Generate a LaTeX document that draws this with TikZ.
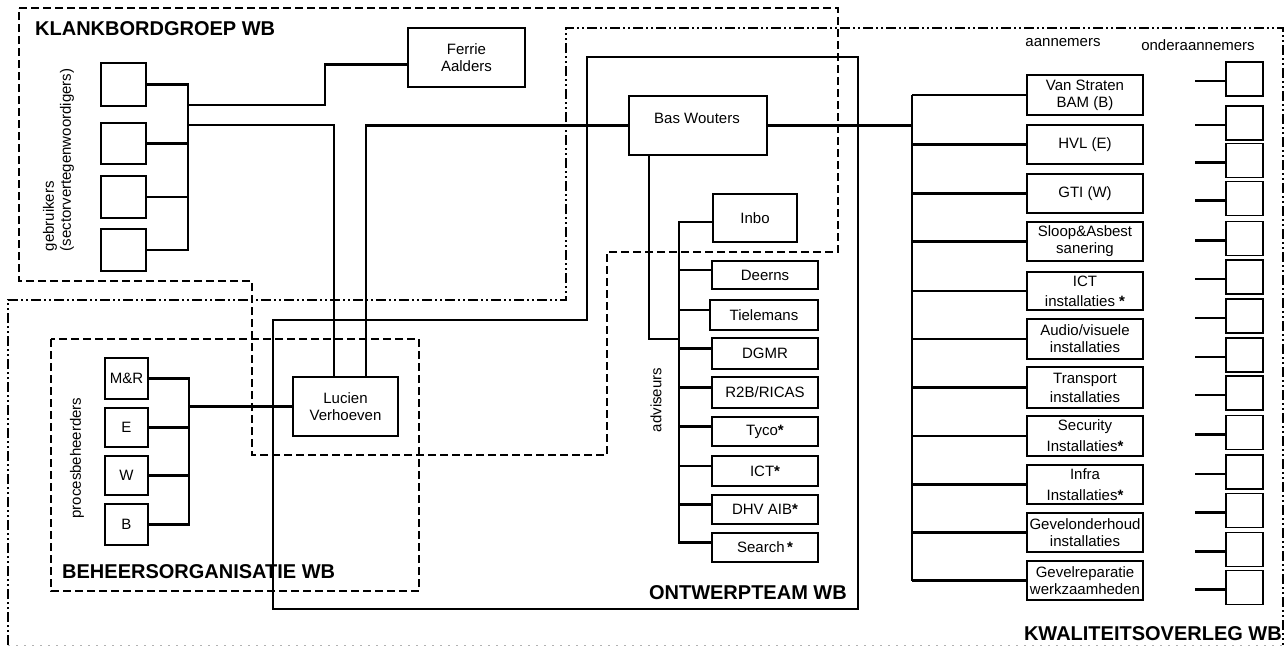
\documentclass[tikz,border=0pt]{standalone}
\usepackage{fontspec}
\setmainfont{Liberation Sans}
\newcommand\mystar{\textbf{*}}
\begin{document}
\begin{tikzpicture}[x=1pt,y=-1pt,
  box/.style={draw,line width=1.4pt,inner sep=0pt,font=\fontsize{15}{17}\selectfont,align=center},
  bus/.style={line width=2.6pt},
  title/.style={font=\fontsize{20}{22}\selectfont\bfseries,inner sep=0pt},
  lbl/.style={font=\fontsize{15}{17}\selectfont,inner sep=0pt},
  grpdash/.style={line width=1.3pt,dash pattern=on 8pt off 4pt},
  grpdot/.style={line width=1.3pt,dash pattern=on 10pt off 3pt on 2pt off 3pt on 2pt off 3pt},
  grpsolid/.style={line width=1.5pt},
]
\useasboundingbox (0,0) rectangle (1286,648);

% ---------- groups ----------
\draw[grpdash] (19,8) -- (838,8) -- (838,252) -- (607,252) -- (607,455) -- (252,455) -- (252,281) -- (19,281) -- cycle;
\draw[grpdot] (8,645) -- (8,300) -- (566,300) -- (566,28) -- (1283,28) -- (1283,645);
\draw[line width=1pt,gray!60,dash pattern=on 2pt off 6pt] (8,645) -- (1283,645);
\draw[grpsolid] (587,57) -- (858,57) -- (858,609) -- (273,609) -- (273,320) -- (587,320) -- cycle;
\draw[grpdash] (51,339) rectangle (419,591);

% ---------- titles ----------
\node[title,anchor=west] (tK) at (35,28.5) {KLANKBORDGROEP WB};
\node[title,anchor=west] (tB) at (62,572) {BEHEERSORGANISATIE WB};
\node[title,anchor=east] (tO) at (847,592.5) {ONTWERPTEAM WB};
\node[title,anchor=east] (tQ) at (1282,634) {KWALITEITSOVERLEG WB};

% ---------- labels ----------
\node[lbl,rotate=90,align=left] (lg) at (58.5,160) {gebruikers\\(sectorvertegenwoordigers)};
\node[lbl,rotate=90] (lp) at (77,458) {procesbeheerders};
\node[lbl,rotate=90] (la) at (656,400) {adviseurs};
\node[lbl] (lan) at (1063,43) {aannemers};
\node[lbl] (lon) at (1198,45) {onderaannemers};

% ---------- gebruikers ----------
\node[box,minimum width=45pt,minimum height=43pt] (g1) at (123.5,84.5) {};
\node[box,minimum width=45pt,minimum height=41pt] (g2) at (123.5,143.5) {};
\node[box,minimum width=45pt,minimum height=42pt] (g3) at (123.5,197) {};
\node[box,minimum width=45pt,minimum height=42pt] (g4) at (123.5,250) {};
\coordinate (gb1) at (188,84.5);
\coordinate (gb4) at (188,250);
\coordinate (gbF) at (188,105);
\coordinate (gbL) at (188,125);
\draw[bus] (g1.east) -- (gb1) -- (gb4) -- (g4.east);
\draw[bus] (g2.east) -- (g2.east -| gb1);
\draw[bus] (g3.east) -- (g3.east -| gb1);

% ---------- key persons ----------
\node[box,minimum width=117pt,minimum height=59pt] (ferrie) at (466.5,57.5) {Ferrie\\Aalders};
\node[box,minimum width=138pt,minimum height=59pt] (bas) at (698,125.5) {};
\node[lbl] (basT) at (697,118) {Bas Wouters};
\node[box,minimum width=105pt,minimum height=59pt] (lucien) at (345.5,406.5) {Lucien\\Verhoeven};

\draw[bus] (gbF) -- (325,105) |- ([yshift=-7pt]ferrie.west);
\draw[bus] (gbL) -| ([xshift=-11.5pt]lucien.north);
\draw[bus] ([xshift=20.5pt]lucien.north) |- (bas.west);

% ---------- procesbeheerders ----------
\node[box,minimum width=43pt,minimum height=41pt] (p1) at (126.5,378.5) {M\&R};
\node[box,minimum width=43pt,minimum height=39pt] (p2) at (126.5,427.5) {E};
\node[box,minimum width=43pt,minimum height=39pt] (p3) at (126.5,475.5) {W};
\node[box,minimum width=43pt,minimum height=41pt] (p4) at (126.5,524.5) {B};
\coordinate (pb1) at (189,378.5);
\coordinate (pb4) at (189,524.5);
\coordinate (pbL) at (189,406.5);
\draw[bus] (p1.east) -- (pb1) -- (pb4) -- (p4.east);
\draw[bus] (p2.east) -- (p2.east -| pb1);
\draw[bus] (p3.east) -- (p3.east -| pb1);
\draw[bus] (pbL) -- (lucien.west);

% ---------- adviseurs ----------
\node[box,minimum width=84pt,minimum height=48pt] (inbo) at (755,218) {Inbo};
\node[box,minimum width=106pt,minimum height=28pt] (deerns) at (765,275) {Deerns};
\node[box,minimum width=108pt,minimum height=30pt] (tielemans) at (764,315) {Tielemans};
\node[box,minimum width=106pt,minimum height=31pt] (dgmr) at (765,353.5) {DGMR};
\node[box,minimum width=106pt,minimum height=31pt] (r2b) at (765,392.5) {R2B/RICAS};
\node[box,minimum width=106pt,minimum height=29pt] (tyco) at (765,431.5) {Tyco\mystar};
\node[box,minimum width=106pt,minimum height=30pt] (ict) at (765,471) {ICT\mystar};
\node[box,minimum width=106pt,minimum height=29pt] (dhv) at (765,509.5) {DHV AIB\mystar};
\node[box,minimum width=106pt,minimum height=29pt] (search) at (765,547.5) {Search\,\mystar};
\coordinate (ab1) at (679,222);
\coordinate (ab2) at (679,542.5);
\coordinate (abj) at (679,339);
\draw[bus] ([yshift=-4pt]inbo.west) -- (ab1) -- (ab2) -- ([yshift=5pt]search.west);
\foreach \n in {deerns,tielemans,dgmr,r2b,tyco,ict,dhv}
  \draw[bus] ([yshift=5pt]\n.west) -- ([yshift=5pt]\n.west -| ab1);
\draw[bus] ([xshift=-49pt]bas.south) |- (abj);

% ---------- aannemers ----------
\node[box,minimum width=116pt,minimum height=40pt] (a1) at (1085,95) {Van Straten\\BAM (B)};
\node[box,minimum width=116pt,minimum height=39pt] (a2) at (1085,144.5) {HVL (E)};
\node[box,minimum width=116pt,minimum height=39pt] (a3) at (1085,193.5) {GTI (W)};
\node[box,minimum width=116pt,minimum height=39pt] (a4) at (1085,241.5) {Sloop\&Asbest\\sanering};
\node[box,minimum width=116pt,minimum height=38pt] (a5) at (1085,291) {ICT\\[3pt]installaties \mystar};
\node[box,minimum width=116pt,minimum height=40pt] (a6) at (1085,339) {Audio/visuele\\installaties};
\node[box,minimum width=116pt,minimum height=41pt] (a7) at (1085,387.5) {Transport\\[2pt]installaties};
\node[box,minimum width=116pt,minimum height=40pt] (a8) at (1085,436) {Security\\[4pt]Installaties\mystar};
\node[box,minimum width=116pt,minimum height=39pt] (a9) at (1085,484.5) {Infra\\[4pt]Installaties\mystar};
\node[box,minimum width=116pt,minimum height=39pt] (a10) at (1085,532.5) {Gevelonderhoud\\installaties};
\node[box,minimum width=116pt,minimum height=39pt] (a11) at (1085,580.5) {Gevelreparatie\\werkzaamheden};
\coordinate (kb1) at (912,95);
\coordinate (kb2) at (912,580.5);
\draw[bus] (bas.east) -- (bas.east -| kb1);
\draw[bus] (kb1) -- (kb2);
\foreach \i in {1,...,11}
  \draw[bus] (a\i.west) -- (a\i.west -| kb1);

% ---------- onderaannemers ----------
\foreach \yy [count=\i] in {79,123,160.5,198.5,238.5,277,316,355,393,432.5,472,510.5,549.5,587.5}{
  \node[box,minimum width=37pt,minimum height=34pt] (o\i) at (1244.5,\yy) {};
  \draw[bus] ([yshift=-2pt]o\i.west) -- ++(-30,0);
}
\end{tikzpicture}
\end{document}
